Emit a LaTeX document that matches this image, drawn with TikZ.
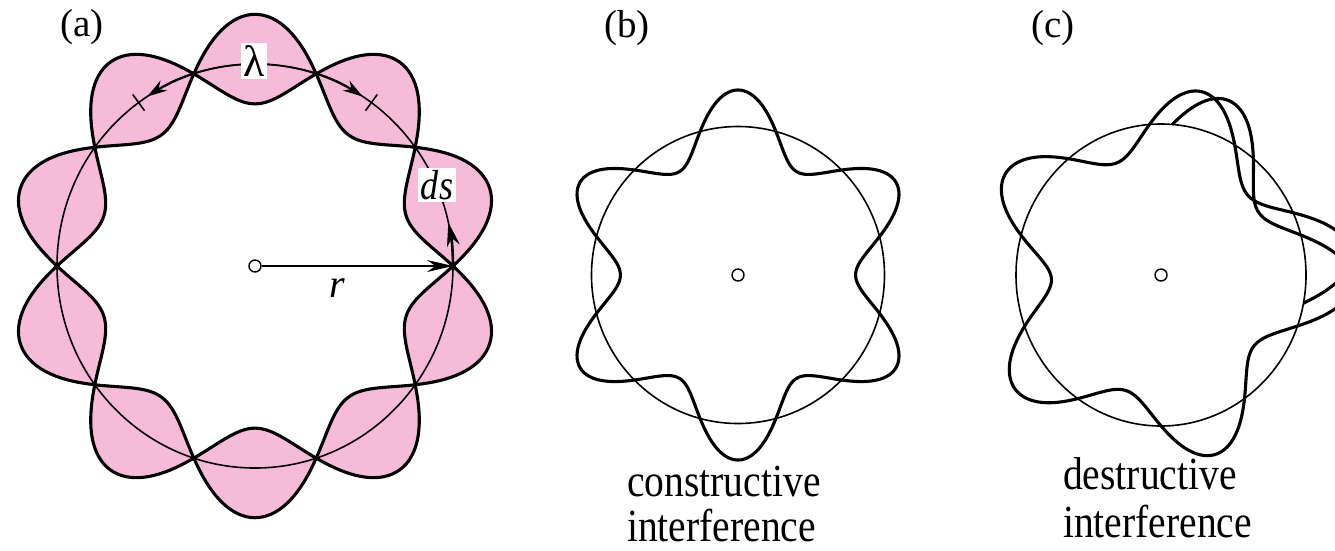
\documentclass[tikz,border=0pt]{standalone}
\usepackage{fontspec}
\setmainfont{Liberation Serif}
\newfontfamily\capfont{Liberation Serif}[FakeStretch=0.86]
\usetikzlibrary{arrows.meta}
\definecolor{lobepink}{RGB}{247,187,218}
\begin{document}
\begin{tikzpicture}[x=1pt,y=-1pt,
  declare function={sq(\u)=cos(\u)*cos(\u); ampc(\u)=0.22+0.06*sq(\u)*sq(\u)*sq(\u)*sq(\u);},
  wave/.style={line width=3.1pt, line join=round},
  ring/.style={line width=1.6pt},
  hub/.style={circle, draw, fill=white, line width=1.4pt, minimum size=12pt, inner sep=0pt},
  lbl/.style={font=\fontsize{39}{46}\selectfont, inner sep=0pt, anchor=base},
  captxt/.style={font=\capfont\fontsize{46}{52}\selectfont, inner sep=0pt, anchor=base west},
  whitetag/.style={fill=white, inner sep=2.5pt},
]
\useasboundingbox (0,0) rectangle (1335,550);

% ---------- panel (a) ----------
\fill[lobepink, even odd rule]
  plot[domain=0:360, samples=361, variable=\t]
    ({255+198*exp(0.22*sin(5*\t))*cos(\t)}, {266-202*exp(0.22*sin(5*\t))*sin(\t)}) -- cycle
  plot[domain=0:360, samples=361, variable=\t]
    ({255+198*exp(-0.22*sin(5*\t))*cos(\t)}, {266-202*exp(-0.22*sin(5*\t))*sin(\t)}) -- cycle;
\draw[ring] (255,266) ellipse[x radius=198, y radius=202];
\draw[wave] plot[domain=0:360, samples=361, variable=\t]
    ({255+198*exp(0.22*sin(5*\t))*cos(\t)}, {266-202*exp(0.22*sin(5*\t))*sin(\t)}) -- cycle;
\draw[wave] plot[domain=0:360, samples=361, variable=\t]
    ({255+198*exp(-0.22*sin(5*\t))*cos(\t)}, {266-202*exp(-0.22*sin(5*\t))*sin(\t)}) -- cycle;

\node[hub] (ha) at (255,266) {};
\coordinate (a0) at (453,266);
\coordinate (lt) at (255,64);
\coordinate (k1a) at ({255+188*cos(126)},{266-192*sin(126)});
\coordinate (k1b) at ({255+208*cos(126)},{266-212*sin(126)});
\coordinate (k2a) at ({255+188*cos(54)},{266-192*sin(54)});
\coordinate (k2b) at ({255+208*cos(54)},{266-212*sin(54)});

\draw[ring, -{Stealth[length=26pt,width=12pt]}] (ha) -- (a0);
\draw[line width=2.6pt, -{Stealth[length=24pt,width=13pt]}] (a0) arc[start angle=0, end angle=-12.5, x radius=198, y radius=202];
\draw[ring, -{Stealth[length=20pt,width=12pt]}] (lt) arc[start angle=-90, end angle=-123, x radius=198, y radius=202];
\draw[ring, -{Stealth[length=20pt,width=12pt]}] (lt) arc[start angle=-90, end angle=-57, x radius=198, y radius=202];
\draw[ring] (k1a) -- (k1b);
\draw[ring] (k2a) -- (k2b);

\node[whitetag, font=\fontsize{44}{50}\selectfont] (lam) at (254,61) {λ};
\node[whitetag, font=\capfont\itshape\fontsize{42}{48}\selectfont] (ds) at (437,185) {ds};
\node[font=\itshape\fontsize{40}{46}\selectfont, inner sep=0pt] (rl) at (337,288) {r};
\node[lbl] (la) at (82,36) {(a)};

% ---------- panel (b) ----------
\draw[ring] (738,275) ellipse[x radius=146.5, y radius=148.5];
\draw[wave] plot[domain=0:360, samples=361, variable=\t]
    ({738+146.5*exp(-0.22*cos(6*\t))*cos(\t)}, {275-148.5*exp(-0.22*cos(6*\t))*sin(\t)}) -- cycle;
\node[hub] (hb) at (738,275) {};
\node[lbl] (lb) at (627,37) {(b)};
\node[captxt] (b1) at (627,496) {constructive};
\node[captxt] (b2) at (627,541) {interference};

% ---------- panel (c) ----------
\draw[ring] (1161,275) ellipse[x radius=145, y radius=151];
\begin{scope}
\clip (0,0) rectangle (1335,550);
\draw[wave] plot[domain=-10.75:445.55, samples=520, variable=\t]
    ({1161+145*exp(ampc(\t)*sin((\t+10.75)*5.1282))*cos(\t)}, {275-151*exp(ampc(\t)*sin((\t+10.75)*5.1282))*sin(\t)});
\end{scope}
\node[hub] (hc) at (1161,275) {};
\node[lbl] (lc) at (1053,37) {(c)};
\node[captxt] (c1) at (1063,489) {destructive};
\node[captxt] (c2) at (1063,537) {interference};
\end{tikzpicture}
\end{document}
